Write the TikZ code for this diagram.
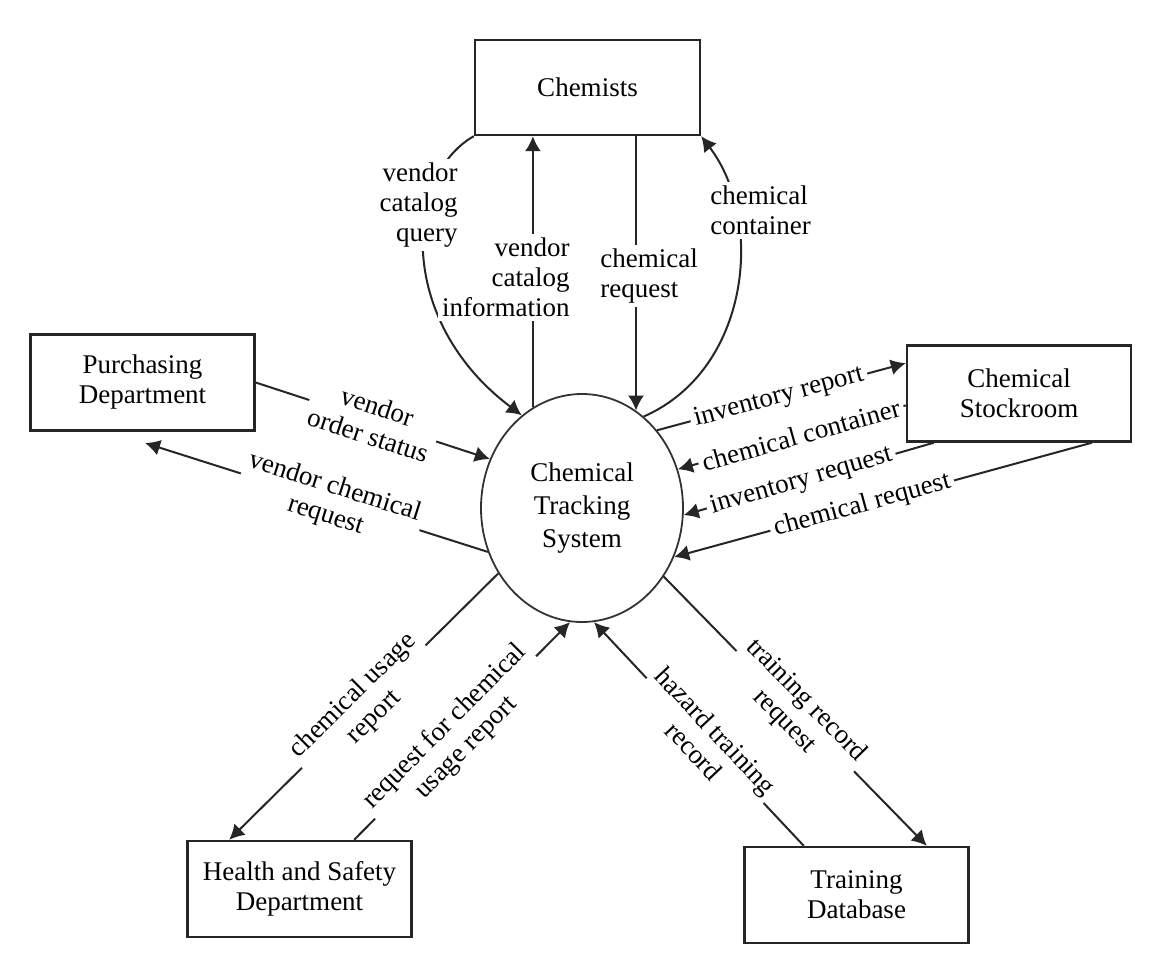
\documentclass[tikz,border=0pt]{standalone}
\usepackage{fontspec}
\setmainfont{Liberation Serif}
\usetikzlibrary{shapes.geometric,arrows.meta,calc}
\pgfdeclarelayer{flows}
\pgfsetlayers{flows,main}

\begin{document}
\begin{tikzpicture}[x=0.5pt,y=-0.5pt,
  entity/.style={draw=black!85, line width=1.2pt, minimum width=112pt,
    minimum height=48pt, align=center, inner sep=2pt,
    font=\fontsize{13.5}{15}\selectfont},
  process/.style={ellipse, draw=black!80, line width=0.9pt,
    minimum width=101pt, minimum height=114pt, inner sep=0pt,
    align=center, font=\fontsize{13.5}{16.5}\selectfont},
  flow/.style={draw=black!85, line width=1pt,
    -{Latex[length=7.5pt,width=8pt]}},
  lbl/.style={fill=white, inner sep=2pt, align=center,
    font=\fontsize{13.5}{15}\selectfont},
]
\useasboundingbox (0,0) rectangle (1169,953);

% central process and external entities
\node[process] (cts) at (582,508) {Chemical\\Tracking\\System};
\node[entity, minimum width=112.5pt, minimum height=47.5pt] (chem) at (587.5,87.5) {Chemists};
\node[entity] (pd) at (142.5,382.5) {Purchasing\\Department};
\node[entity] (cs) at (1019,393.5) {Chemical\\Stockroom};
\node[entity] (hs) at (299.5,889) {Health and Safety\\Department};
\node[entity] (td) at (856.5,895) {Training\\Database};
\coordinate (pdin) at (145,443);

\begin{pgfonlayer}{flows}
% flows with the chemists
\draw[flow] (chem.south west) .. controls (405,175) and (395,320) .. (cts.123);
\draw[flow] (cts.116) -- (cts.116 |- chem.south);
\draw[flow] (cts.61 |- chem.south) -- (cts.61);
\draw[flow] (cts.56) .. controls (750,370) and (765,220) .. (chem.south east);
\node[lbl, anchor=east, align=right] (l2) at (574,277) {vendor\\catalog\\information};
\node[lbl, anchor=east, align=right] (l1) at (462,205) {vendor\\catalog\\query};
\node[lbl, anchor=west, align=left] (l3) at (596,276) {chemical\\request};
\node[lbl, anchor=west, align=left] (l4) at (706,210) {chemical\\container};

% flows with purchasing
\draw[flow] (pd.east) -- node[lbl, sloped, pos=0.5] {vendor\\order status} (cts.152);
\draw[flow] (cts.205) -- node[lbl, sloped, pos=0.46] {vendor chemical\\request} (pdin);

% flows with the stockroom
\draw[flow] (cts.46) -- node[lbl, sloped, pos=0.49] {inventory report} (cs.165);
\draw[flow] (cs.186) -- node[lbl, sloped, pos=0.46] {chemical container} (cts.22);
\draw[flow] (cs.210) -- node[lbl, sloped, pos=0.53] {inventory request} (cts.356);
\draw[flow] (cs.326) -- node[lbl, sloped, pos=0.55] {chemical request} (cts.332);

% flows with health and safety
\draw[flow] (cts.218) -- node[lbl, sloped, pos=0.5] {chemical usage\\report} (hs.145);
\draw[flow] (hs.42) -- node[lbl, sloped, pos=0.47] {request for chemical\\usage report} (cts.264);

% flows with the training database
\draw[flow] (td.137) -- node[lbl, sloped, pos=0.47] {hazard training\\record} (cts.276);
\draw[flow] (cts.320) -- node[lbl, sloped, pos=0.5] {training record\\request} (td.35);
\end{pgfonlayer}
\end{tikzpicture}
\end{document}
